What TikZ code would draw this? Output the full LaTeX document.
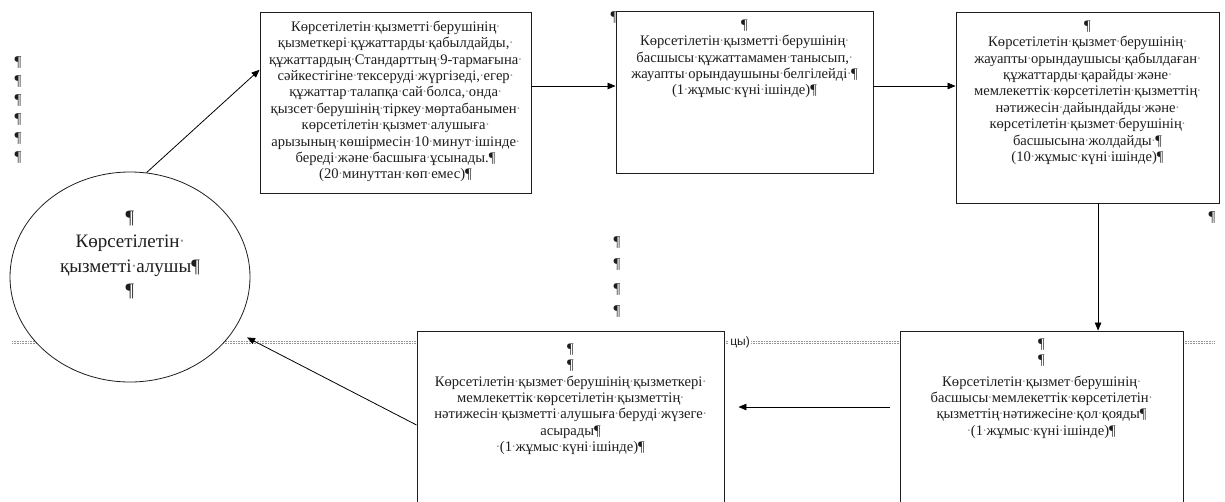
\documentclass[tikz,border=0pt]{standalone}
\usepackage{fontspec}
\setmainfont{Liberation Serif}
\newfontfamily\marksans{Liberation Sans}
\usepackage{xcolor}
\usetikzlibrary{shapes.geometric, arrows.meta, positioning, calc}

\definecolor{inkgray}{RGB}{30,30,30}
\definecolor{dotgray}{RGB}{150,150,150}
\newcommand{\sd}{\makebox[.25em]{\textcolor{dotgray}{·}}}

\tikzset{
  stepbox/.style={draw=inkgray, line width=0.9pt, fill=white, inner sep=0pt},
  steptext/.style={align=center, text=inkgray, font=\fontsize{14.6}{16.4}\selectfont, inner sep=0pt},
  pil/.style={text=inkgray, font=\fontsize{15}{16.4}\selectfont, inner sep=0pt},
  flow/.style={->, line width=0.8pt, black},
  >={Triangle[length=8pt,width=6.5pt]}
}

\begin{document}
\begin{tikzpicture}[x=1pt, y=-1pt]
\useasboundingbox (0,0) rectangle (1225,501);
\fill[white] (0,0) rectangle (1225,501);
\clip (0,0) rectangle (1225,501);

% Section break line
\foreach \yy in {341,343}
  \draw[dotgray, densely dotted, line width=0.6pt] (12,\yy) -- (1215,\yy);
\node[font=\marksans\fontsize{12}{12}\selectfont, fill=white, inner sep=1pt, text=inkgray] (brk) at (740,342) {цы)};

% Left marks
\foreach \k in {0,...,5}
  \node[pil] (lp\k) at (18,{63+19*\k}) {¶};

% Service receiver
\node[ellipse, draw=inkgray, line width=0.8pt, fill=white, minimum width=240, minimum height=210, inner sep=0pt] (ell) at (130,277) {};
\node[align=center, text=inkgray, font=\fontsize{19}{24.5}\selectfont, inner sep=0pt] (ellt) at (130,255)
  {¶\\ Көрсетілетін\sd\\ қызметті\sd алушы¶\\ ¶};

% Step 1
\node[stepbox, minimum width=271, minimum height=181] (b1) at (395.5,102.5) {};
\node[steptext, below=9pt of b1.north] (t1) {Көрсетілетін\sd қызметті\sd берушінің\sd\\
  қызметкері\sd құжаттарды\sd қабылдайды,\sd\\
  құжаттардың\sd Стандарттың\sd 9-тармағына\sd\\
  сәйкестігіне\sd тексеруді\sd жүргізеді,\sd егер\sd\\
  құжаттар\sd талапқа\sd сай\sd болса,\sd онда\sd\\
  қызсет\sd берушінің\sd тіркеу\sd мөртабанымен\sd\\
  көрсетілетін\sd қызмет\sd алушыға\sd\\
  арызының\sd көшірмесін\sd 10\sd минут\sd ішінде\sd\\
  береді\sd және\sd басшыға\sd ұсынады.¶\\
  (20\sd минуттан\sd көп\sd емес)¶};

% Step 2
\node[stepbox, minimum width=257, minimum height=162] (b2) at (744.5,92) {};
\node[steptext, below=9pt of b2.north] (t2) {¶\\
  Көрсетілетін\sd қызметті\sd берушінің\sd\\
  басшысы\sd құжаттамамен\sd танысып,\sd\\
  жауапты\sd орындаушыны\sd белгілейді\sd ¶\\
  (1\sd жұмыс\sd күні\sd ішінде)¶};
\node[pil] (tp) at (614,18) {¶};

% Step 3
\node[stepbox, minimum width=263, minimum height=191] (b3) at (1087.5,107.5) {};
\node[steptext, below=9pt of b3.north] (t3) {¶\\
  Көрсетілетін\sd қызмет\sd берушінің\sd\\
  жауапты\sd орындаушысы\sd қабылдаған\sd\\
  құжаттарды\sd қарайды\sd және\sd\\
  мемлекеттік\sd көрсетілетін\sd қызметтің\sd\\
  нәтижесін\sd дайындайды\sd және\sd\\
  көрсетілетін\sd қызмет\sd берушінің\sd\\
  басшысына\sd жолдайды\sd ¶\\
  (10\sd жұмыс\sd күні\sd ішінде)¶};
\node[pil] (rp) at (1212,218) {¶};

% Middle marks
\foreach \yy [count=\k] in {243,265,290,312}
  \node[pil] (mp\k) at (617,\yy) {¶};

% Step 4 (signing)
\node[stepbox, minimum width=283, minimum height=188] (b5) at (1041.5,425) {};
\node[steptext, below=8pt of b5.north] (t5) {¶\\
  ¶\\[5pt]
  Көрсетілетін\sd қызмет\sd берушінің\sd\\
  басшысы\sd мемлекеттік\sd көрсетілетін\sd\\
  қызметтің\sd нәтижесіне\sd қол\sd қояды¶\\
  \sd(1\sd жұмыс\sd күні\sd ішінде)¶};

% Step 5 (issue)
\node[stepbox, minimum width=307, minimum height=188] (b4) at (570.5,425) {};
\node[steptext, below=13pt of b4.north] (t4) {¶\\
  ¶\\
  Көрсетілетін\sd қызмет\sd берушінің\sd қызметкері\sd\\
  мемлекеттік\sd көрсетілетін\sd қызметтің\sd\\
  нәтижесін\sd қызметті\sd алушыға\sd беруді\sd жүзеге\sd\\
  асырады¶\\
  \sd(1\sd жұмыс\sd күні\sd ішінде)¶};

% Arrows
\draw[flow] (ell.81) -- ($(b1.north west)!0.32!(b1.south west)$);
\coordinate (r1) at ([yshift=6pt]b2.west);
\draw[flow] (b1.east |- r1) -- (r1);
\draw[flow] (b2.east |- r1) -- (b3.west |- r1);
\coordinate (d1) at ($(b3.south west)!0.54!(b3.south east)$);
\draw[flow] (d1) -- (d1 |- b5.north);
\coordinate (r2) at ([yshift=18pt]b5.west);
\draw[flow, shorten <=10pt, shorten >=14pt] (r2) -- (b4.east |- r2);
\draw[flow, shorten >=15pt] (b4.west) -- (ell);
\end{tikzpicture}
\end{document}
